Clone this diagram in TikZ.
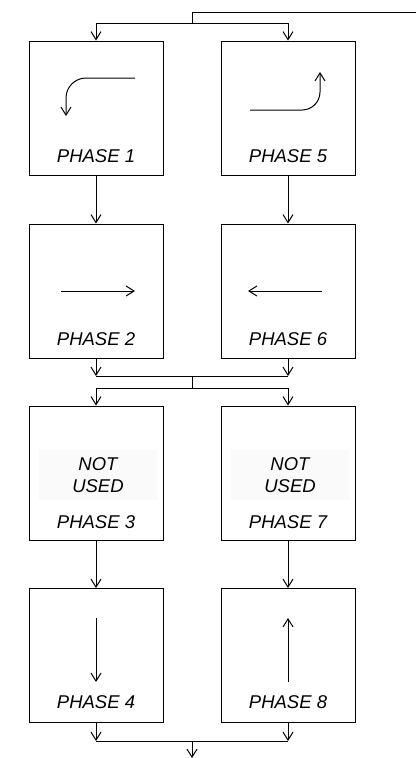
\documentclass[tikz,border=0pt]{standalone}
\usepackage{fontspec}
\setmainfont{Liberation Sans}
\usetikzlibrary{arrows.meta,positioning,calc}

\tikzset{
    phasebox/.style={draw, line width=1pt, minimum width=134pt, minimum height=134pt, inner sep=0pt},
    phaselbl/.style={font=\fontsize{18.5}{22}\selectfont\itshape, inner sep=0pt},
    unused/.style={fill=black!2, minimum width=118pt, minimum height=50pt, align=center, inner sep=0pt,
        font=\fontsize{18.5}{22}\selectfont\itshape},
    wire/.style={line width=1pt},
    flow/.style={line width=1pt, ->}
}

\begin{document}
\begin{tikzpicture}[x=1pt, y=-1pt, >={Straight Barb[length=8pt,width=10pt]}]
    \useasboundingbox (0,0) rectangle (416,758);

    % phase boxes
    \node[phasebox] (b1) at (96,108) {};
    \node[phasebox] (b5) at (288,108) {};
    \node[phasebox] (b2) at (96,291) {};
    \node[phasebox] (b6) at (288,291) {};
    \node[phasebox] (b3) at (96,473) {};
    \node[phasebox] (b7) at (288,473) {};
    \node[phasebox] (b4) at (96,655.5) {};
    \node[phasebox] (b8) at (288,655.5) {};

    % labels
    \node[phaselbl] (l1) at ([yshift=19pt]b1.south) {PHASE 1};
    \node[phaselbl] (l5) at ([yshift=19pt]b5.south) {PHASE 5};
    \node[phaselbl] (l2) at ([yshift=19pt]b2.south) {PHASE 2};
    \node[phaselbl] (l6) at ([yshift=19pt]b6.south) {PHASE 6};
    \node[phaselbl] (l3) at ([yshift=18pt]b3.south) {PHASE 3};
    \node[phaselbl] (l7) at ([yshift=18pt]b7.south) {PHASE 7};
    \node[phaselbl] (l4) at ([yshift=21pt]b4.south) {PHASE 4};
    \node[phaselbl] (l8) at ([yshift=21pt]b8.south) {PHASE 8};
    \node[unused] (n3) at (98,475) {NOT\\USED};
    \node[unused] (n7) at (290,475) {NOT\\USED};

    % motion arrows
    \draw[flow, rounded corners=20pt] (135,78) -| (66,116);
    \draw[flow, rounded corners=18pt] (250,110) -| (320,72);
    \draw[flow] (61,291) -- (135,291);
    \draw[flow] (322,291) -- (248,291);
    \draw[flow] (96,618) -- (96,682);
    \draw[flow] (288,682) -- (288,618);

    % wiring
    \coordinate (inR) at (416,12);
    \coordinate (split1) at (192,23);
    \coordinate (mid1) at (192,376);
    \coordinate (split2) at (192,388);
    \coordinate (mid2) at (192,741);
    \coordinate (outB) at (192,758);

    \draw[wire] (inR) -| (split1);
    \draw[flow] (split1) -| (b1.north);
    \draw[flow] (split1) -| (b5.north);
    \draw[flow] (b1) -- (b2);
    \draw[flow] (b5) -- (b6);
    \draw[flow] (b2.south) -- (b2.south |- mid1);
    \draw[flow] (b6.south) -- (b6.south |- mid1);
    \draw[wire] (b2.south |- mid1) -- (b6.south |- mid1);
    \draw[wire] (mid1) -- (split2);
    \draw[flow] (split2) -| (b3.north);
    \draw[flow] (split2) -| (b7.north);
    \draw[flow] (b3) -- (b4);
    \draw[flow] (b7) -- (b8);
    \draw[flow] (b4.south) -- (b4.south |- mid2);
    \draw[flow] (b8.south) -- (b8.south |- mid2);
    \draw[wire] (b4.south |- mid2) -- (b8.south |- mid2);
    \draw[flow] (mid2) -- (outB);
\end{tikzpicture}
\end{document}
